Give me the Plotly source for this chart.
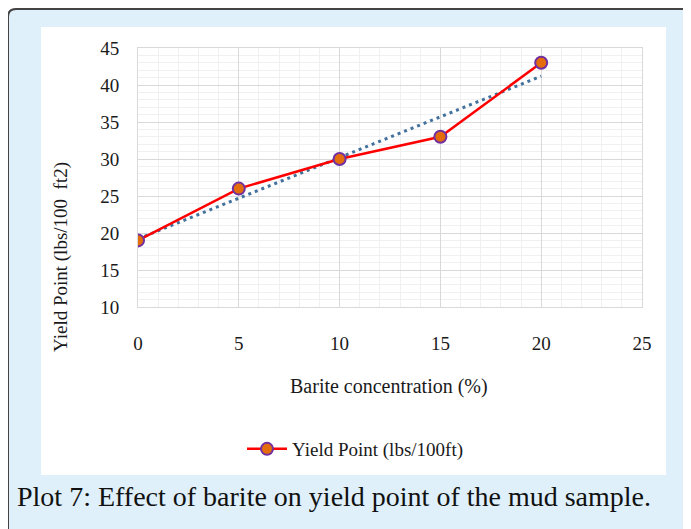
import numpy as np
import plotly.graph_objects as go

# Data
barite_pct = [0, 5, 10, 15, 20]
yield_point = [19, 26, 30, 33, 43]
series_name = "Yield Point (lbs/100ft)"
x_title = "Barite concentration (%)"
y_title = "Yield Point (lbs/100  ft2)"
caption = "Plot 7: Effect of barite on yield point of the mud sample."

# Linear trendline (as in the spreadsheet chart)
slope, intercept = np.polyfit(barite_pct, yield_point, 1)
trend_y = [slope * x + intercept for x in barite_pct]

# The page body has an 8px margin, so the figure starts at (8, 8)
OFF = 8
W, H = 691 - OFF, 529 - OFF
L, R, T, B = 138 - OFF, 49, 48 - OFF, 222
PW, PH = W - L - R, H - T - B

def px(x):
    return (x - OFF - L) / PW

def py(y):
    return (H - B - (y - OFF)) / PH

FONT = "Liberation Serif"
TXT = "#1a1a1a"

fig = go.Figure()
fig.add_trace(go.Scatter(
    x=barite_pct, y=trend_y, mode="lines",
    line=dict(color="#41719c", width=3, dash="3px,4px"),
    showlegend=False, hoverinfo="skip"))
fig.add_trace(go.Scatter(
    x=barite_pct, y=yield_point, mode="lines+markers", name=series_name,
    line=dict(color="#ff0000", width=2.5),
    marker=dict(size=12, color="#e46c0a", line=dict(color="#7030a0", width=2))))

# Outer frame with rounded top-left corner
x0, y0, x1, y1, rr = 8, 9, 720, 560, 8
frame_path = (f"M {px(x0)},{py(y1)} L {px(x0)},{py(y0+rr)} "
              f"Q {px(x0)},{py(y0)} {px(x0+rr)},{py(y0)} "
              f"L {px(x1)},{py(y0)} L {px(x1)},{py(y1)} Z")
shapes = [
    dict(type="path", xref="paper", yref="paper", path=frame_path,
         fillcolor="#dff0fa", line=dict(color="#444444", width=2), layer="below"),
    dict(type="rect", xref="paper", yref="paper",
         x0=px(41), x1=px(666), y0=py(475), y1=py(27),
         fillcolor="white", line=dict(width=0), layer="below"),
]

annotations = [
    dict(text=x_title, xref="paper", yref="paper", x=px(389), y=py(386),
         xanchor="center", yanchor="middle", showarrow=False,
         font=dict(family=FONT, size=20, color=TXT)),
    dict(text=y_title, xref="paper", yref="paper", x=px(61), y=py(257),
         xanchor="center", yanchor="middle", showarrow=False, textangle=-90,
         font=dict(family=FONT, size=19, color=TXT)),
    dict(text=caption, xref="paper", yref="paper", x=px(15), y=py(497),
         xanchor="left", yanchor="middle", showarrow=False,
         font=dict(family=FONT, size=28, color="#111111")),
]

fig.update_layout(
    width=W, height=H,
    margin=dict(l=L, r=R, t=T, b=B, autoexpand=False),
    paper_bgcolor="white", plot_bgcolor="white",
    shapes=shapes, annotations=annotations,
    font=dict(family=FONT, color=TXT),
    legend=dict(orientation="h", x=px(355), y=py(449), xanchor="center",
                yanchor="middle", bgcolor="rgba(0,0,0,0)",
                font=dict(family=FONT, size=19, color=TXT), itemwidth=40),
    xaxis=dict(range=[0, 25], dtick=5, tick0=0, showgrid=True,
               gridcolor="#d9d9d9", gridwidth=1, zeroline=False,
               showline=True, linecolor="#d9d9d9", linewidth=1, mirror=True,
               ticks="", ticklabelstandoff=19,
               tickfont=dict(family=FONT, size=19, color=TXT),
               minor=dict(dtick=1, showgrid=True, gridcolor="#f0f0f0", gridwidth=1)),
    yaxis=dict(range=[10, 45], dtick=5, tick0=10, showgrid=True,
               gridcolor="#d9d9d9", gridwidth=1, zeroline=False,
               showline=True, linecolor="#d9d9d9", linewidth=1, mirror=True,
               ticks="", ticklabelstandoff=14,
               tickfont=dict(family=FONT, size=19, color=TXT),
               minor=dict(dtick=1, showgrid=True, gridcolor="#f0f0f0", gridwidth=1)),
)

fig.write_html("out.html")
